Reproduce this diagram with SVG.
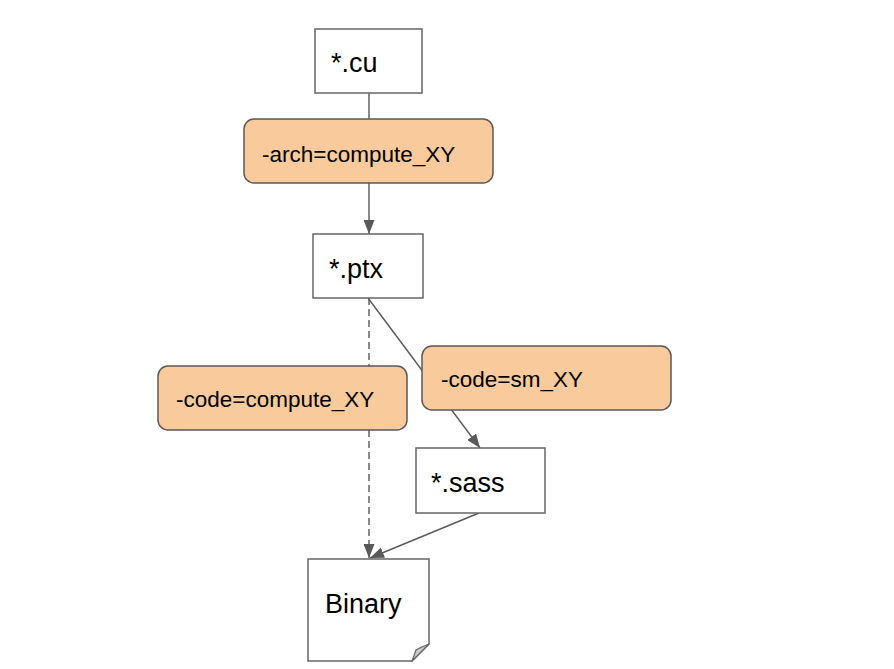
<svg xmlns="http://www.w3.org/2000/svg" width="894" height="669" viewBox="0 0 894 669">
<style>
.node{fill:#ffffff;stroke:#666666;stroke-width:1.5}
.lbl{fill:#f9cb9c;stroke:#595959;stroke-width:1.5}
.ntext{font-family:"Liberation Sans",Arial,sans-serif;font-size:27px;fill:#000000}
.ltext{font-family:"Liberation Sans",Arial,sans-serif;font-size:22.5px;fill:#000000}
.edge{stroke:#595959;stroke-width:1.4;fill:none}
.dash{stroke-dasharray:7,4}
</style>
<defs>
<marker id="arrow" viewBox="0 0 14 11" refX="14" refY="5.5" markerWidth="14" markerHeight="11" markerUnits="userSpaceOnUse" orient="auto">
<path d="M0,0 L14,5.5 L0,11 Z" fill="#595959"/>
</marker>
</defs>
<rect width="894" height="669" fill="#ffffff"/>
<g id="connectors">
<line class="edge" x1="369" y1="93" x2="369" y2="234" marker-end="url(#arrow)"/>
<line class="edge dash" x1="369" y1="298" x2="369" y2="558" marker-end="url(#arrow)"/>
<line class="edge" x1="368" y1="298" x2="480" y2="448" marker-end="url(#arrow)"/>
<line class="edge" x1="479" y1="513" x2="370" y2="558" marker-end="url(#arrow)"/>
</g>
<g id="node-cu">
<rect class="node" x="315" y="29" width="107" height="64"/>
<text class="ntext" x="331" y="72">*.cu</text>
</g>
<g id="label-arch">
<rect class="lbl" x="244" y="119" width="249" height="64" rx="10" ry="10"/>
<text class="ltext" x="262" y="162">-arch=compute_XY</text>
</g>
<g id="node-ptx">
<rect class="node" x="313" y="234" width="110" height="64"/>
<text class="ntext" x="329" y="278">*.ptx</text>
</g>
<g id="label-compute">
<rect class="lbl" x="158" y="366" width="249" height="64" rx="10" ry="10"/>
<text class="ltext" x="176" y="407">-code=compute_XY</text>
</g>
<g id="label-sm">
<rect class="lbl" x="422" y="346" width="249" height="64" rx="10" ry="10"/>
<text class="ltext" x="441" y="387">-code=sm_XY</text>
</g>
<g id="node-sass">
<rect class="node" x="416" y="448" width="129" height="65"/>
<text class="ntext" x="431" y="492">*.sass</text>
</g>
<g id="node-binary">
<path class="node" d="M308,559 L429,559 L429,644 L412,661 L308,661 Z"/>
<path d="M412,661 L416,650 Q421,647 429,644 Z" fill="#cccccc" stroke="#666666" stroke-width="1.2" stroke-linejoin="round"/>
<text class="ntext" x="325" y="613">Binary</text>
</g>
</svg>
